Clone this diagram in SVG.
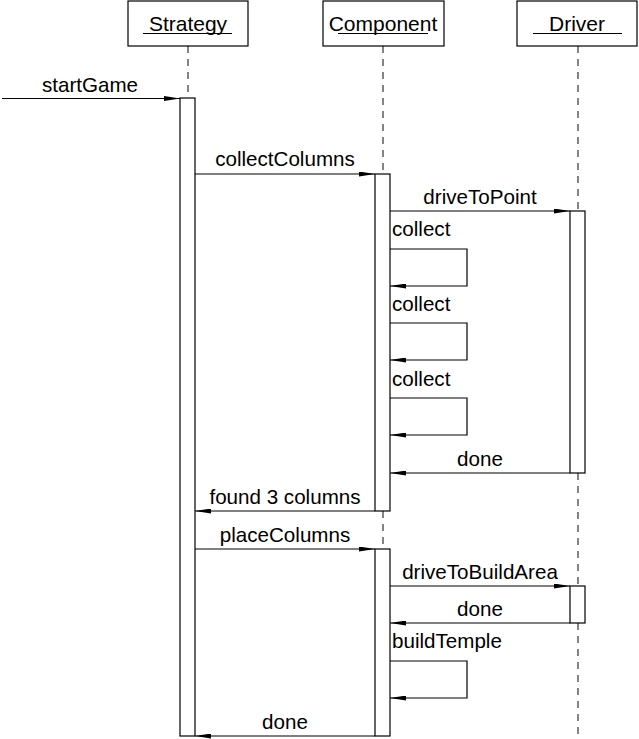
<svg xmlns="http://www.w3.org/2000/svg" width="639" height="739" viewBox="0 0 639 739">
<defs>
<style>
.box{fill:#fff;stroke:#000;stroke-width:1.2}
.act{fill:#fff;stroke:#000;stroke-width:1.2}
.life{stroke:#333;stroke-width:1.2;stroke-dasharray:7,6;fill:none}
.msg{stroke:#000;stroke-width:1.2;fill:none;marker-end:url(#ah)}
.ul{stroke:#000;stroke-width:1.2}
text{font-family:"Liberation Sans",Arial,Helvetica,sans-serif;font-size:20.6px;fill:#000}
.h{font-size:21px}
.c{text-anchor:middle}
</style>
<marker id="ah" viewBox="0 0 16 5" refX="16" refY="2.5" markerWidth="16" markerHeight="5" markerUnits="userSpaceOnUse" orient="auto">
<path d="M0,0 L16,2.5 L0,5 Z" fill="#000"/>
</marker>
</defs>
<rect width="639" height="739" fill="#fff"/>
<g id="lifelines">
<line class="life" x1="188" y1="46" x2="188" y2="98"/>
<line class="life" x1="383" y1="46" x2="383" y2="174"/>
<line class="life" x1="383" y1="511" x2="383" y2="549"/>
<line class="life" x1="578" y1="46" x2="578" y2="211"/>
<line class="life" x1="578" y1="473" x2="578" y2="586"/>
<line class="life" x1="578" y1="623" x2="578" y2="739"/>
</g>
<g id="strategy">
<rect class="box" x="128" y="1" width="120" height="45"/>
<text class="c h" x="188" y="30.5">Strategy</text>
<line class="ul" x1="143" y1="33.5" x2="232" y2="33.5"/>
<rect class="act" x="180" y="98" width="15" height="638"/>
</g>
<g id="component">
<rect class="box" x="323" y="1" width="121" height="45"/>
<text class="c h" x="383" y="30.5">Component</text>
<line class="ul" x1="338" y1="33.5" x2="428" y2="33.5"/>
<rect class="act" x="375" y="174" width="15" height="337"/>
<rect class="act" x="375" y="549" width="15" height="187"/>
</g>
<g id="driver">
<rect class="box" x="517" y="1" width="120" height="45"/>
<text class="c h" x="577" y="30.5">Driver</text>
<line class="ul" x1="533" y1="33.5" x2="622" y2="33.5"/>
<rect class="act" x="570" y="211" width="15" height="262"/>
<rect class="act" x="570" y="586" width="15" height="37"/>
</g>
<g id="connectors">
<line class="msg" x1="2" y1="98.5" x2="180" y2="98.5"/>
<text class="c" x="90" y="92">startGame</text>
<line class="msg" x1="195" y1="174" x2="375" y2="174"/>
<text class="c" x="285" y="166">collectColumns</text>
<line class="msg" x1="390" y1="211" x2="570" y2="211"/>
<text class="c" x="480" y="204">driveToPoint</text>
<polyline class="msg" points="390,249 467,249 467,286 390,286"/>
<text x="392" y="236">collect</text>
<polyline class="msg" points="390,323 467,323 467,360 390,360"/>
<text x="392" y="311">collect</text>
<polyline class="msg" points="390,398 467,398 467,435 390,435"/>
<text x="392" y="386">collect</text>
<line class="msg" x1="570" y1="473" x2="390" y2="473"/>
<text class="c" x="480" y="466">done</text>
<line class="msg" x1="375" y1="511" x2="195" y2="511"/>
<text class="c" x="285" y="504">found 3 columns</text>
<line class="msg" x1="195" y1="549" x2="375" y2="549"/>
<text class="c" x="285" y="542">placeColumns</text>
<line class="msg" x1="390" y1="586" x2="570" y2="586"/>
<text class="c" x="480" y="579">driveToBuildArea</text>
<line class="msg" x1="570" y1="623" x2="390" y2="623"/>
<text class="c" x="480" y="616">done</text>
<polyline class="msg" points="390,661 467,661 467,698 390,698"/>
<text x="392" y="648">buildTemple</text>
<line class="msg" x1="375" y1="736" x2="195" y2="736"/>
<text class="c" x="285" y="729">done</text>
</g>
</svg>
